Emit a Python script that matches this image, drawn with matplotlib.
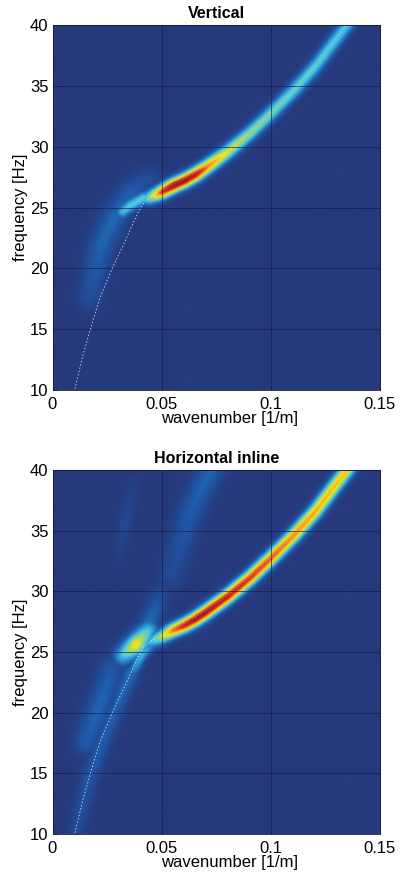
import numpy as np
import matplotlib
matplotlib.use('Agg')
import matplotlib.pyplot as plt
from matplotlib.colors import LinearSegmentedColormap

plt.rcParams['font.family'] = ['Liberation Sans', 'DejaVu Sans']

# dispersion curve (both panels)
disp_k = [0.0103, 0.0120, 0.0140, 0.0164, 0.0190, 0.0218, 0.0248, 0.0279, 0.0305, 0.0332,
          0.0369, 0.0392, 0.0415, 0.0445, 0.0477, 0.0538, 0.0600, 0.0675, 0.0750, 0.0827,
          0.0910, 0.1000, 0.1070, 0.1134, 0.1200, 0.1270, 0.1340]
disp_f = [10.1, 11.4, 12.9, 14.4, 16.0, 17.6, 18.9, 20.2, 21.2, 22.2,
          23.7, 24.6, 25.3, 25.8, 26.2, 26.7, 27.3, 28.1, 29.0, 30.0,
          31.3, 32.8, 34.0, 35.2, 36.7, 38.4, 39.9]
split = 15  # dots fade where the line runs on the bright ridge

# main ridge, k / f as read, amplitude per panel
main_k = [0.0440, 0.0500, 0.0550, 0.0600, 0.0650, 0.0700, 0.0800, 0.0900,
          0.1000, 0.1100, 0.1200, 0.1340, 0.1400]
main_f = [25.8, 26.3, 26.8, 27.2, 27.7, 28.3, 29.6, 31.1, 32.8, 34.6, 36.6, 39.9, 41.5]
main_amp_v = [0.45, 0.88, 1.00, 1.00, 0.95, 0.80, 0.58, 0.48, 0.44, 0.41, 0.39, 0.37, 0.37]
main_amp_h = [0.30, 0.55, 0.80, 0.92, 0.97, 0.98, 0.93, 0.88, 0.83, 0.77, 0.73, 0.69, 0.68]

# side lobes: (k points, f points, amplitude points, width in px)
lobes_v = [
    ([0.0317, 0.0355, 0.0415], [24.65, 25.2, 25.8], [0.33, 0.38, 0.38], 4.5),
    ([0.0164, 0.0217, 0.0278, 0.0355, 0.0438], [17.6, 21.8, 24.2, 26.2, 27.3],
     [0.09, 0.15, 0.16, 0.14, 0.08], 9),
]
lobes_h = [
    ([0.0320, 0.0378, 0.0435], [24.7, 25.6, 26.8], [0.34, 0.64, 0.34], 7),
    ([0.0440, 0.0465, 0.0490], [27.5, 28.5, 29.7], [0.16, 0.14, 0.08], 7),
    ([0.0368, 0.0405, 0.0455], [23.5, 24.8, 25.7], [0.22, 0.34, 0.22], 4),
    ([0.0105, 0.0165, 0.0233, 0.0295, 0.0355], [10.2, 14.6, 18.0, 20.7, 23.3],
     [0.07, 0.12, 0.13, 0.14, 0.17], 6),
    ([0.0150, 0.0200, 0.0248, 0.0265], [17.6, 20.0, 22.4, 23.6], [0.13, 0.15, 0.14, 0.12], 9),
    ([0.0300, 0.0332, 0.0370], [32.7, 36.0, 39.2], [0.02, 0.07, 0.02], 5),
    ([0.0538, 0.0630, 0.0745], [31.3, 36.6, 41.0], [0.07, 0.13, 0.16], 9),
]

titles = ['Vertical', 'Horizontal inline']
xticks = [0, 0.05, 0.1, 0.15]
xticklabels = ['0', '0.05', '0.1', '0.15']
yticks = [10, 15, 20, 25, 30, 35, 40]

cmap = LinearSegmentedColormap.from_list('faded_jet', [
    (0.00, '#26397c'), (0.12, '#1f57a6'), (0.25, '#2b8fd0'), (0.37, '#4ec9e0'),
    (0.50, '#a3d56a'), (0.62, '#f3e61f'), (0.75, '#f59a20'), (0.88, '#d92a20'),
    (1.00, '#8e1c1c')])

kk, ff = np.meshgrid(np.linspace(0, 0.15, 300), np.linspace(10, 40, 330))


def ridge(k, f, amp, width):
    """ Gaussian ridge around a read polyline, distances in panel pixels """
    t = np.linspace(0, len(k) - 1, 160)
    idx = np.arange(len(k))
    kc = np.interp(t, idx, k)[:, None, None]
    fc = np.interp(t, idx, f)[:, None, None]
    ac = np.interp(t, idx, amp)[:, None, None]
    d2 = ((kk - kc) * 2183) ** 2 + ((ff - fc) * 12.15) ** 2
    return (ac * np.exp(-0.5 * d2 / width ** 2)).max(axis=0)


def panel_field(main_amp, main_w, lobes):
    field = ridge(main_k, main_f, main_amp, main_w)
    for k, f, amp, w in lobes:
        field = np.maximum(field, ridge(k, f, amp, w))
    return field


fig = plt.figure(figsize=(4.05, 8.74), dpi=100, facecolor='white')
W, H = 405.0, 874.0
boxes = [(52.5, 25, 380, 390), (52.5, 470, 380, 834)]
fields = [panel_field(main_amp_v, 5.0, lobes_v), panel_field(main_amp_h, 5.0, lobes_h)]

for box, field, title in zip(boxes, fields, titles):
    x0, y0, x1, y1 = box
    ax = fig.add_axes([x0 / W, 1 - y1 / H, (x1 - x0) / W, (y1 - y0) / H])
    ax.imshow(field, extent=[0, 0.15, 10, 40], origin='lower', aspect='auto',
              cmap=cmap, vmin=0, vmax=1, interpolation='bilinear', zorder=1)
    ax.plot(disp_k[:split], disp_f[:split], color='white', lw=0.7, ls=(0, (1.5, 2)),
            alpha=0.7, zorder=3)
    ax.plot(disp_k[split - 1:], disp_f[split - 1:], color='white', lw=0.6, ls=(0, (1.5, 2.5)),
            alpha=0.35, zorder=3)
    ax.set_xlim(0, 0.15)
    ax.set_ylim(10, 40)
    ax.set_xticks(xticks)
    ax.set_xticklabels(xticklabels)
    ax.set_yticks(yticks)
    ax.grid(True, color='#141c48', lw=0.7, alpha=0.65, zorder=2)
    ax.set_axisbelow(False)
    ax.tick_params(direction='in', length=3, width=0.6, color='#141c48', labelsize=12)
    ax.tick_params(axis='x', pad=5)
    ax.tick_params(axis='y', pad=3)
    for s in ax.spines.values():
        s.set_linewidth(0.6)
        s.set_color('#1a1a2a')
    ax.set_xlabel('wavenumber [1/m]', fontsize=12, labelpad=-1, x=0.54)
    ax.set_ylabel('frequency [Hz]', fontsize=12, labelpad=1)
    ax.set_title(title, fontsize=11.5, fontweight='bold', pad=5)

fig.savefig('out.png', dpi=100)
